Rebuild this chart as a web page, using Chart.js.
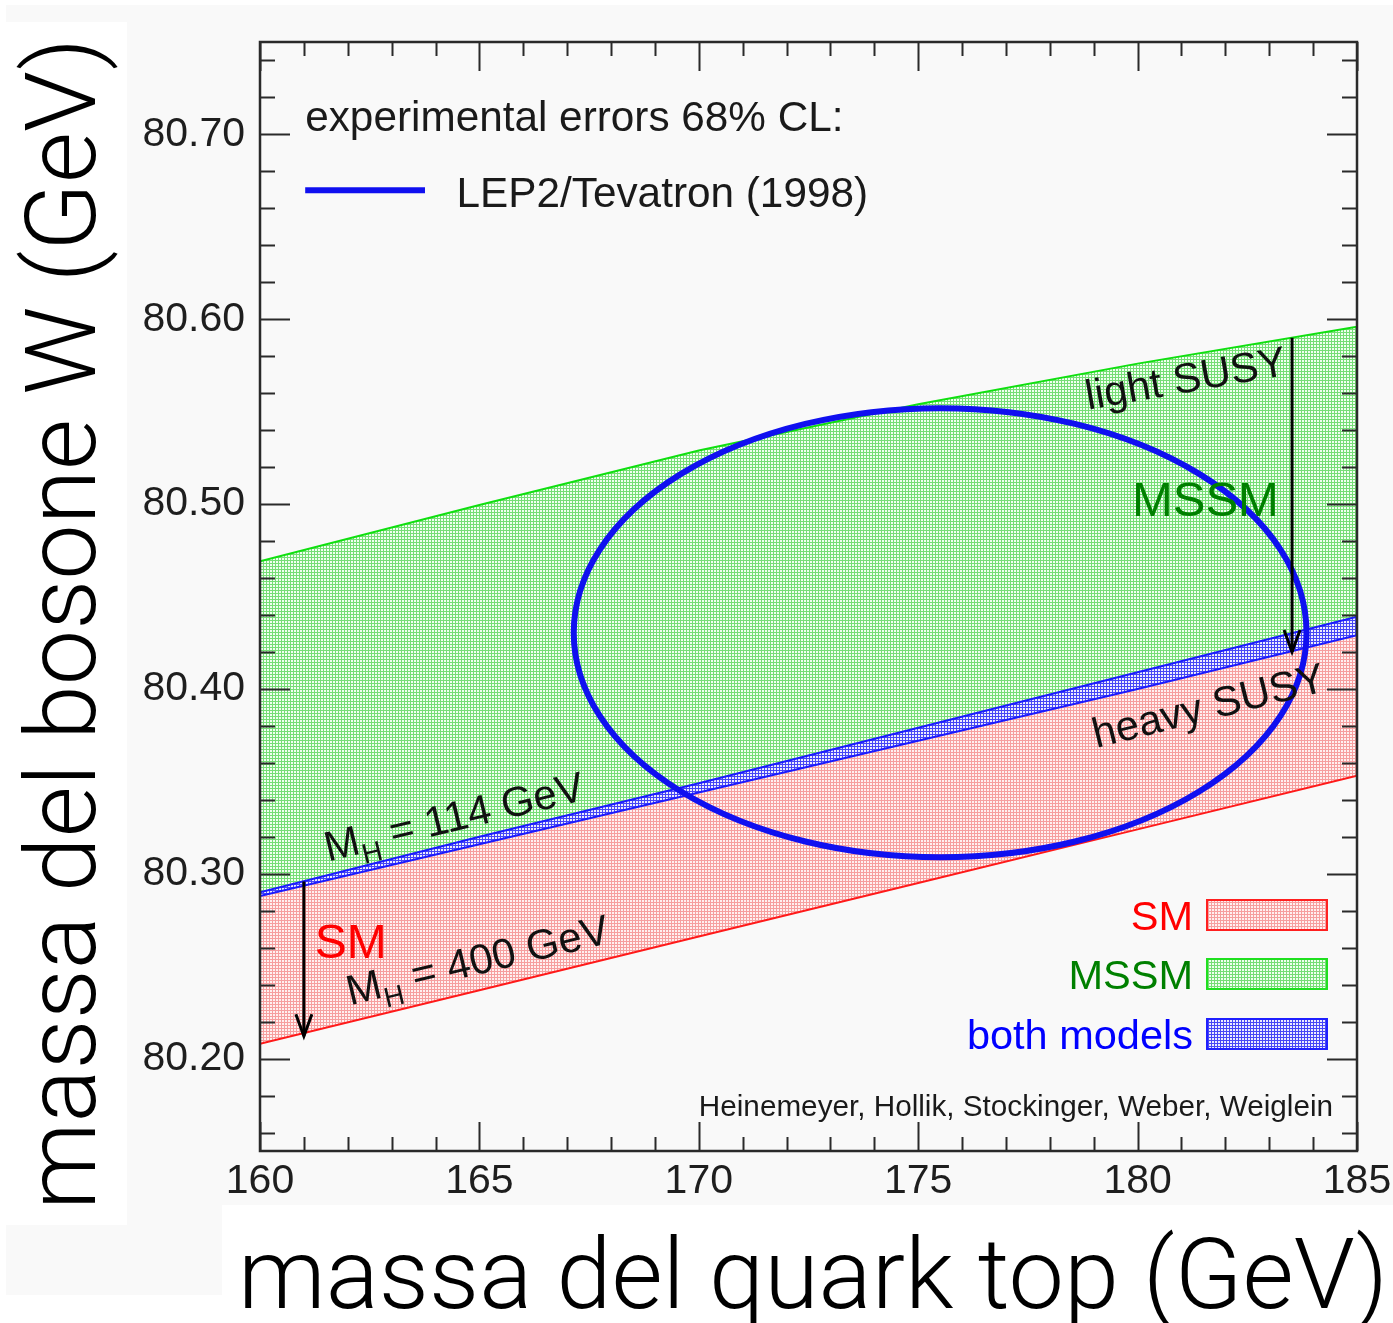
<!DOCTYPE html>
<html>
<head>
<meta charset="utf-8">
<script src="https://cdn.jsdelivr.net/npm/chart.js@4.4.0/dist/chart.umd.min.js"></script>
<style>
  html, body { margin: 0; padding: 0; background: #fff; }
  #wrap { width: 1393px; height: 1323px; }
</style>
</head>
<body>
<div id="wrap"><canvas id="c" width="1393" height="1323"></canvas></div>
<script>
// Top-quark mass grid (GeV)
const topMass = [160, 165, 170, 175, 180, 185];
// Band edges in M_W (GeV)
const mssmUpper    = [80.469, 80.4995, 80.529, 80.554, 80.576, 80.596]; // light SUSY
const overlapUpper = [80.290, 80.320, 80.349, 80.379, 80.409, 80.439];  // SM, M_H = 114 GeV
const overlapLower = [80.288, 80.316, 80.344, 80.372, 80.400, 80.429];  // MSSM, heavy SUSY
const smLower      = [80.208, 80.237, 80.266, 80.295, 80.324, 80.353];  // SM, M_H = 400 GeV
// LEP2/Tevatron (1998) 68% CL ellipse: centre (m_t, M_W) and half-axes
const ellipseCentre = [175.50, 80.4304];
const ellipseHalfAxes = [8.35, 0.1215];
// Axis tick labels
const xTickValues = [160, 165, 170, 175, 180, 185];
const yTickValues = [80.20, 80.30, 80.40, 80.50, 80.60, 80.70];

const W = 1393, H = 1323;
const SANS = '"Liberation Sans", Arial, Helvetica, sans-serif';
const LIGHT = '"Roboto", "Lato", "Liberation Sans", sans-serif';

const canvas = document.getElementById('c');
const ctx = canvas.getContext('2d');

// stippled fills: 3x3 tile with a pale 2x2 dot
function stipple(ink, paper) {
  const t = document.createElement('canvas');
  t.width = 3; t.height = 3;
  const g = t.getContext('2d');
  g.fillStyle = ink; g.fillRect(0, 0, 3, 3);
  g.fillStyle = paper; g.fillRect(0, 0, 2, 2);
  return ctx.createPattern(t, 'repeat');
}
const redFill   = stipple('rgb(246,159,159)', 'rgb(255,240,240)');
const greenFill = stipple('rgb(118,221,118)', 'rgb(240,255,240)');
const blueFill  = stipple('rgb(70,70,245)',   'rgb(235,235,255)');

const pts = arr => topMass.map((m, i) => ({ x: m, y: arr[i] }));

const backdrop = {
  id: 'backdrop',
  beforeDraw(chart) {
    const c = chart.ctx;
    c.save();
    c.fillStyle = '#ffffff';
    c.fillRect(0, 0, W, H);
    c.fillStyle = '#f9f9f9';
    c.fillRect(6, 5, W - 6, 1290);
    c.fillStyle = '#ffffff';
    c.fillRect(0, 22, 127, 1203);
    c.fillRect(222, 1205, W - 222, H - 1205);
    c.restore();
  }
};

function arrowDown(c, x, y0, y1) {
  c.beginPath();
  c.moveTo(x, y0); c.lineTo(x, y1);
  c.stroke();
  c.beginPath();
  c.moveTo(x - 8, y1 - 22); c.lineTo(x, y1); c.lineTo(x + 8, y1 - 22);
  c.stroke();
}

function rotText(c, x, y, deg, parts) {
  c.save();
  c.translate(x, y);
  c.rotate(deg * Math.PI / 180);
  c.textAlign = 'left';
  c.textBaseline = 'alphabetic';
  let cx = 0;
  for (const p of parts) {
    c.font = p.font;
    c.fillStyle = p.color || '#111';
    c.fillText(p.text, cx, p.dy || 0);
    cx += c.measureText(p.text).width;
  }
  c.restore();
}

const overlays = {
  id: 'overlays',
  afterDatasetsDraw(chart) {
    const c = chart.ctx, a = chart.chartArea;
    const xs = chart.scales.x, ys = chart.scales.y;
    const px = v => xs.getPixelForValue(v), py = v => ys.getPixelForValue(v);

    // experimental ellipse
    c.save();
    c.beginPath();
    c.rect(a.left, a.top, a.right - a.left, a.bottom - a.top);
    c.clip();
    const cx = px(ellipseCentre[0]), cy = py(ellipseCentre[1]);
    const rx = px(ellipseCentre[0] + ellipseHalfAxes[0]) - cx;
    const ry = cy - py(ellipseCentre[1] + ellipseHalfAxes[1]);
    c.beginPath();
    c.ellipse(cx, cy, rx, ry, 0, 0, Math.PI * 2);
    c.lineWidth = 6;
    c.strokeStyle = '#1010f0';
    c.stroke();
    c.restore();

    // arrows: light -> heavy SUSY, M_H 114 -> 400 GeV
    c.save();
    c.strokeStyle = '#000';
    c.lineWidth = 3;
    c.lineCap = 'butt';
    arrowDown(c, px(183.52), py(80.590), py(80.420));
    arrowDown(c, px(161.0), py(80.2958), py(80.2121));
    c.restore();

    // band annotations
    const f42 = '42px ' + SANS, f28 = '28px ' + SANS;
    rotText(c, px(178.87), py(80.551), -10, [{ text: 'light SUSY', font: f42 }]);
    rotText(c, px(179.06), py(80.368), -14, [{ text: 'heavy SUSY', font: f42 }]);
    rotText(c, px(161.55), py(80.3066), -13.5, [
      { text: 'M', font: f42 }, { text: 'H', font: f28, dy: 11 }, { text: ' = 114 GeV', font: f42 }]);
    rotText(c, px(162.05), py(80.2289), -13.5, [
      { text: 'M', font: f42 }, { text: 'H', font: f28, dy: 11 }, { text: ' = 400 GeV', font: f42 }]);
    rotText(c, px(179.87), py(80.4933), 0, [{ text: 'MSSM', font: '49px ' + SANS, color: '#008000' }]);
    rotText(c, px(161.25), py(80.2542), 0, [{ text: 'SM', font: '48px ' + SANS, color: '#ff0000' }]);

    // experimental legend
    c.save();
    c.fillStyle = '#1a1a1a';
    c.font = '42.3px ' + SANS;
    c.textBaseline = 'alphabetic';
    c.fillText('experimental errors 68% CL:', px(161.03), py(80.7016));
    c.fillText('LEP2/Tevatron (1998)', px(164.48), py(80.6606));
    c.beginPath();
    c.moveTo(px(161.03), py(80.6698));
    c.lineTo(px(163.76), py(80.6698));
    c.lineWidth = 6;
    c.strokeStyle = '#1010f0';
    c.stroke();
    c.restore();

    // model legend
    const rows = [
      { label: 'SM', color: '#ff0000', fill: redFill, edge: '#ff2020', dy: -236 },
      { label: 'MSSM', color: '#008000', fill: greenFill, edge: '#20e020', dy: -177 },
      { label: 'both models', color: '#0000ff', fill: blueFill, edge: '#2020ff', dy: -117 }
    ];
    c.save();
    for (const r of rows) {
      const yc = a.bottom + r.dy;
      const bx = a.right - 150, bw = 120, bh = 30;
      c.fillStyle = r.fill;
      c.fillRect(bx, yc - bh / 2, bw, bh);
      c.lineWidth = 2;
      c.strokeStyle = r.edge;
      c.strokeRect(bx, yc - bh / 2, bw, bh);
      c.font = '41.5px ' + SANS;
      c.fillStyle = r.color;
      c.textAlign = 'right';
      c.textBaseline = 'alphabetic';
      c.fillText(r.label, bx - 14, yc + 15);
    }
    c.font = '29.7px ' + SANS;
    c.fillStyle = '#1a1a1a';
    c.textAlign = 'right';
    c.fillText('Heinemeyer, Hollik, Stockinger, Weber, Weiglein', a.right - 24, a.bottom - 35);
    c.restore();
  }
};

const frame = {
  id: 'frame',
  afterDraw(chart) {
    const c = chart.ctx, a = chart.chartArea;
    const xs = chart.scales.x, ys = chart.scales.y;
    c.save();
    c.strokeStyle = '#2a2a2a';
    c.lineWidth = 2;
    c.beginPath();
    // x ticks every 1 GeV, long every 5
    for (let i = 0; i <= 25; i++) {
      const x = Math.round(xs.getPixelForValue(160 + i)) + 0.5;
      const len = i % 5 === 0 ? 29 : 14;
      c.moveTo(x, a.bottom); c.lineTo(x, a.bottom - len);
      c.moveTo(x, a.top); c.lineTo(x, a.top + len);
    }
    // y ticks every 0.02 GeV, long every 0.1
    for (let j = 0; j <= 30; j++) {
      const v = 80.15 + 0.01 + j * 0.02;
      if (v > 80.75) break;
      const y = Math.round(ys.getPixelForValue(v)) + 0.5;
      const major = Math.abs(Math.round(v * 10) - v * 10) < 1e-6;
      const len = major ? 30 : 15;
      c.moveTo(a.left, y); c.lineTo(a.left + len, y);
      c.moveTo(a.right, y); c.lineTo(a.right - len, y);
    }
    c.stroke();
    c.lineWidth = 2.5;
    c.strokeRect(a.left, a.top, a.right - a.left, a.bottom - a.top);

    // axis titles
    c.fillStyle = '#000';
    c.textBaseline = 'alphabetic';
    c.textAlign = 'left';
    const fitFont = (text, target) => {
      c.font = '300 95px ' + LIGHT;
      const w = c.measureText(text).width;
      return 95 * target / w;
    };
    const xt = 'massa del quark top (GeV)';
    c.font = '300 ' + fitFont(xt, 1150).toFixed(1) + 'px ' + LIGHT;
    c.fillText(xt, 238, 1308);
    const yt = 'massa del bosone W (GeV)';
    const ysz = fitFont(yt, 1172);
    c.translate(95, 1210);
    c.rotate(-Math.PI / 2);
    c.font = '300 ' + ysz.toFixed(1) + 'px ' + LIGHT;
    c.fillText(yt, 0, 0);
    c.restore();
  }
};

new Chart(canvas, {
  type: 'line',
  data: {
    datasets: [
      { label: 'SM, M_H = 400 GeV', data: pts(smLower), borderColor: '#ff1a1a', borderWidth: 2, fill: false },
      { label: 'SM', data: pts(overlapLower), borderColor: '#1a1aff', borderWidth: 2, fill: '-1', backgroundColor: redFill },
      { label: 'both models', data: pts(overlapUpper), borderColor: '#1a1aff', borderWidth: 2, fill: '-1', backgroundColor: blueFill },
      { label: 'MSSM', data: pts(mssmUpper), borderColor: '#10e010', borderWidth: 2, fill: '-1', backgroundColor: greenFill }
    ]
  },
  options: {
    responsive: false,
    animation: false,
    devicePixelRatio: 1,
    elements: { point: { radius: 0 }, line: { tension: 0 } },
    layout: { padding: { left: 0, top: 42, right: 36, bottom: 0 } },
    plugins: { legend: { display: false }, tooltip: { enabled: false } },
    scales: {
      x: {
        type: 'linear', min: 160, max: 185,
        grid: { display: false, drawTicks: false },
        border: { display: false },
        ticks: { font: { family: SANS, size: 41 }, color: '#1e1e1e', padding: 6, maxRotation: 0, autoSkip: false,
                 callback: v => String(v) },
        afterBuildTicks: s => { s.ticks = xTickValues.map(v => ({ value: v })); },
        afterFit: s => { s.height = 172; s.paddingLeft = 0; s.paddingRight = 0; }
      },
      y: {
        type: 'linear', min: 80.15, max: 80.75,
        grid: { display: false, drawTicks: false },
        border: { display: false },
        ticks: { font: { family: SANS, size: 41 }, color: '#1e1e1e', padding: 15, autoSkip: false,
                 callback: v => Number(v).toFixed(2) },
        afterBuildTicks: s => { s.ticks = yTickValues.map(v => ({ value: v })); },
        afterFit: s => { s.width = 260; s.paddingTop = 0; s.paddingBottom = 0; }
      }
    }
  },
  plugins: [backdrop, overlays, frame]
});
</script>
</body>
</html>
